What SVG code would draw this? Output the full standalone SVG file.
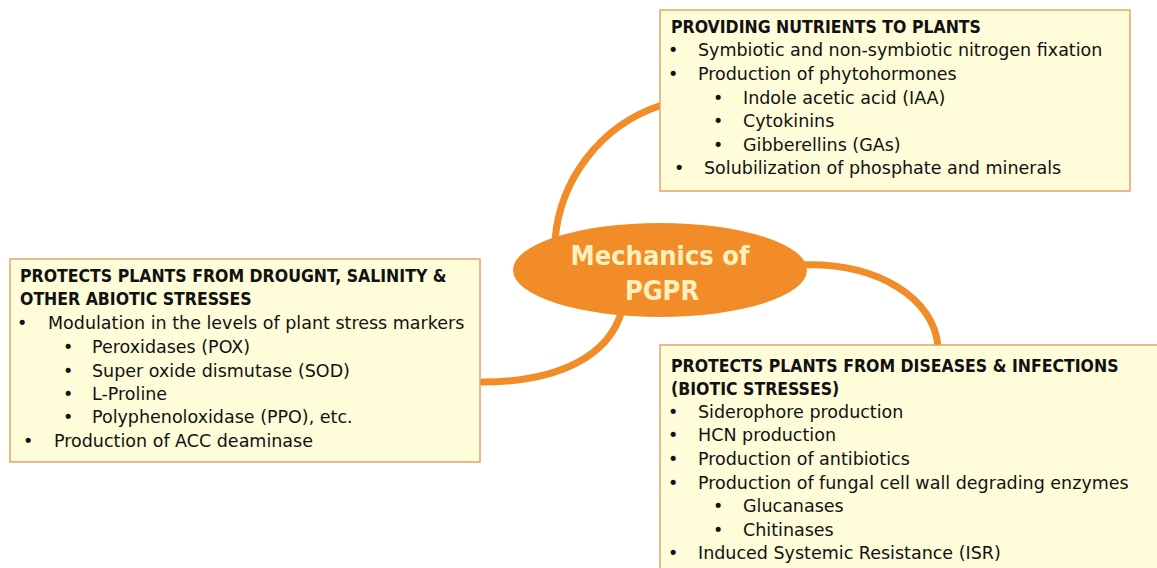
<svg xmlns="http://www.w3.org/2000/svg" width="1157" height="568" viewBox="0 0 1157 568">
<style>
.box{fill:#FFFCDA;stroke:#E9A265;stroke-width:1.5}
.conn{fill:none;stroke:#F28C28;stroke-width:7;stroke-linecap:round}
text{font-family:"DejaVu Sans","Liberation Sans",sans-serif;font-size:17.5px;fill:#111}
.h{font-family:"DejaVu Sans Condensed","DejaVu Sans",sans-serif;font-weight:bold}
.c{font-family:"DejaVu Sans Condensed","DejaVu Sans",sans-serif;font-weight:bold;font-size:27px;fill:#FFF1BE;text-anchor:middle}
</style>
<rect width="1157" height="568" fill="#FFFFFF"/>
<g id="connectors">
<path class="conn" d="M 555 240 C 560 180, 600 125, 662 105"/>
<path class="conn" d="M 800 265 C 880 262, 935 300, 938 347"/>
<path class="conn" d="M 622 310 C 610 355, 560 382, 482 382"/>
</g>
<g id="center">
<ellipse cx="660" cy="270" rx="147" ry="47" fill="#F28C28"/>
<text class="c" x="660" y="265">Mechanics of</text>
<text class="c" x="662" y="300">PGPR</text>
</g>
<g id="nutrients">
<rect class="box" x="660" y="10" width="470" height="181"/>
<text class="h" x="671" y="33">PROVIDING NUTRIENTS TO PLANTS</text>
<text x="668" y="56">•</text><text x="698" y="56">Symbiotic and non-symbiotic nitrogen fixation</text>
<text x="668" y="80">•</text><text x="698" y="80">Production of phytohormones</text>
<text x="713" y="104">•</text><text x="743" y="104">Indole acetic acid (IAA)</text>
<text x="713" y="127">•</text><text x="743" y="127">Cytokinins</text>
<text x="713" y="151">•</text><text x="743" y="151">Gibberellins (GAs)</text>
<text x="674" y="174">•</text><text x="704" y="174">Solubilization of phosphate and minerals</text>
</g>
<g id="abiotic">
<rect class="box" x="10" y="259" width="470" height="203"/>
<text class="h" x="20" y="282">PROTECTS PLANTS FROM DROUGNT, SALINITY &amp;</text>
<text class="h" x="20" y="305">OTHER ABIOTIC STRESSES</text>
<text x="17" y="329">•</text><text x="48" y="329">Modulation in the levels of plant stress markers</text>
<text x="63" y="353">•</text><text x="92" y="353">Peroxidases (POX)</text>
<text x="63" y="377">•</text><text x="92" y="377">Super oxide dismutase (SOD)</text>
<text x="63" y="400">•</text><text x="92" y="400">L-Proline</text>
<text x="63" y="423">•</text><text x="92" y="423">Polyphenoloxidase (PPO), etc.</text>
<text x="23" y="447">•</text><text x="54" y="447">Production of ACC deaminase</text>
</g>
<g id="biotic">
<rect class="box" x="660" y="345" width="520" height="240"/>
<text class="h" x="671" y="372">PROTECTS PLANTS FROM DISEASES &amp; INFECTIONS</text>
<text class="h" x="671" y="395">(BIOTIC STRESSES)</text>
<text x="668" y="418">•</text><text x="698" y="418">Siderophore production</text>
<text x="668" y="441">•</text><text x="698" y="441">HCN production</text>
<text x="668" y="465">•</text><text x="698" y="465">Production of antibiotics</text>
<text x="668" y="489">•</text><text x="698" y="489">Production of fungal cell wall degrading enzymes</text>
<text x="713" y="512">•</text><text x="743" y="512">Glucanases</text>
<text x="713" y="536">•</text><text x="743" y="536">Chitinases</text>
<text x="668" y="559">•</text><text x="698" y="559">Induced Systemic Resistance (ISR)</text>
</g>
</svg>
